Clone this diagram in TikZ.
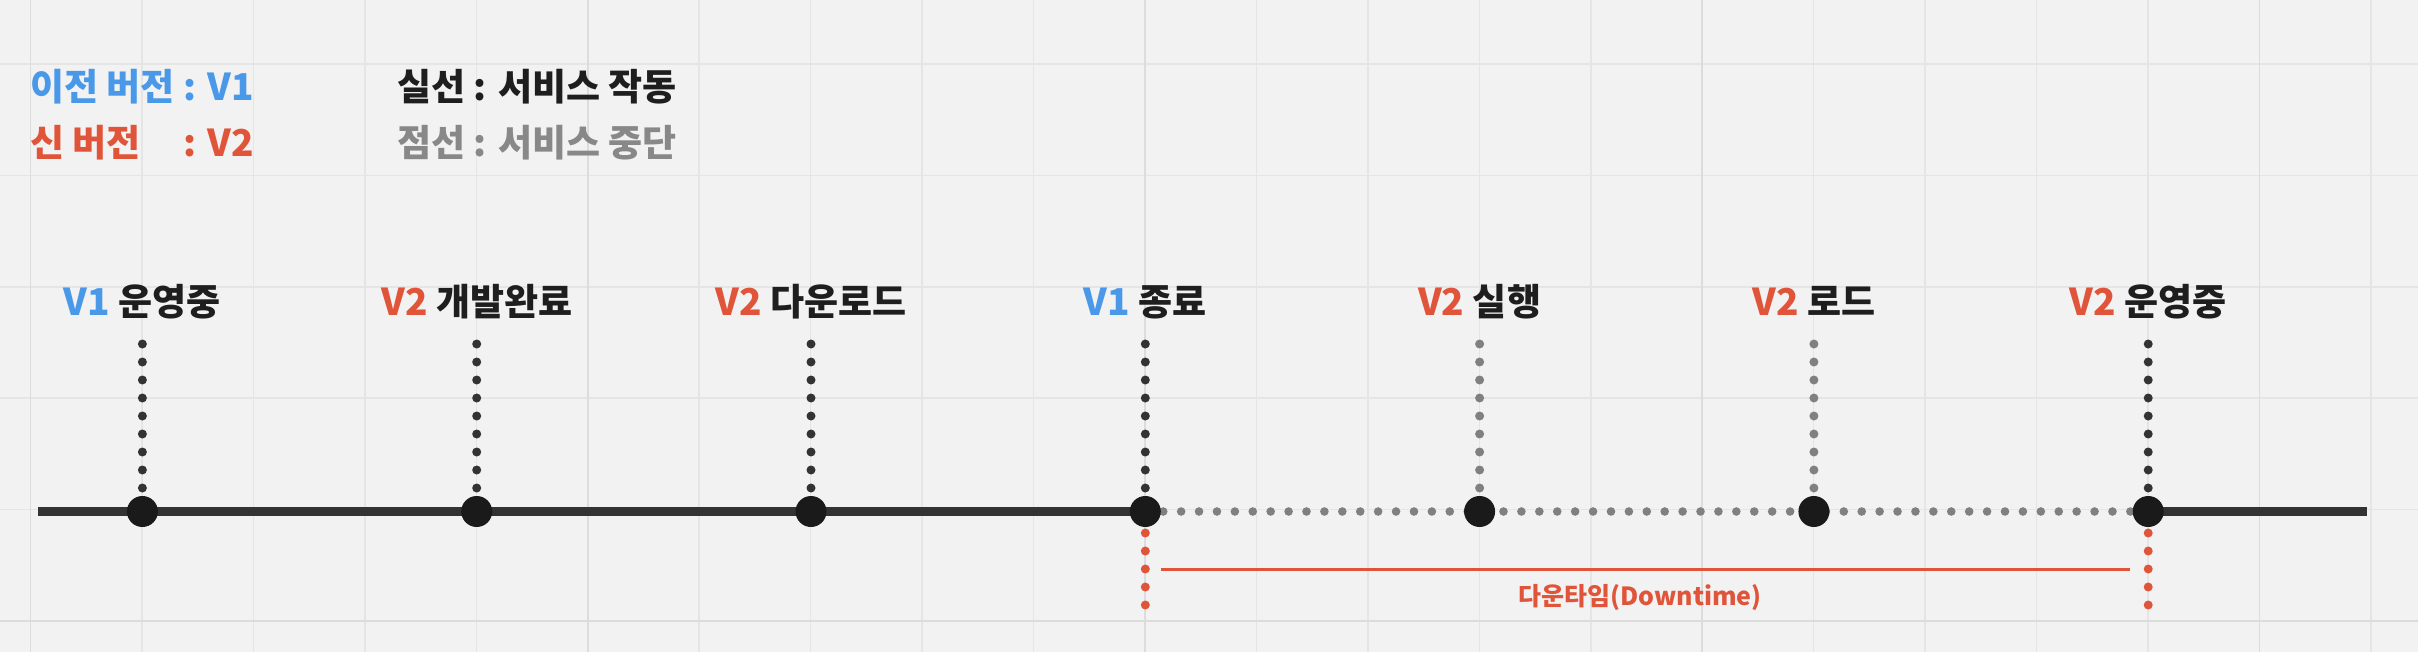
\documentclass[tikz,border=0pt]{standalone}
\usepackage{fontspec}
\setmainfont{Noto Sans CJK KR}
\definecolor{bgc}{HTML}{F2F2F2}
\definecolor{gridc}{HTML}{E5E5E5}
\definecolor{gridd}{HTML}{DCDCDC}
\definecolor{linec}{HTML}{333333}
\definecolor{dotc}{HTML}{1A1A1A}
\definecolor{grayc}{HTML}{808080}
\definecolor{txt}{HTML}{1E1E1E}
\definecolor{bluec}{HTML}{4A98E8}
\definecolor{redc}{HTML}{E0553A}
\definecolor{graytxt}{HTML}{888888}
\tikzset{
  gridln/.style={draw=gridc, line width=0.75pt},
  gridbold/.style={draw=gridd, line width=0.9pt},
  bigdot/.style={circle, fill=dotc, inner sep=0pt, minimum size=15.5pt},
  solidline/.style={draw=linec, line width=4.2pt},
  grayline/.style={draw=grayc, line width=4.3pt, line cap=round, dash pattern=on 0pt off 8.955pt},
  vdots/.style={line width=4.5pt, line cap=round, dash pattern=on 0pt off 9pt},
  lbl/.style={anchor=base, font=\bfseries\fontsize{18.5}{22}\selectfont, text=txt, inner sep=0pt},
  legend/.style={anchor=base west, font=\bfseries\fontsize{18.5}{22}\selectfont, inner sep=0pt},
}
\begin{document}
\begin{tikzpicture}[x=0.5pt, y=-0.5pt]
\fill[bgc] (0,0) rectangle (2418,652);
\useasboundingbox (0,0) rectangle (2418,652);
% grid
\foreach \k in {0,...,21} {
  \pgfmathsetmacro\gx{30.5+111.45*\k}
  \draw[gridln] (\gx,0) -- (\gx,652);
}
\foreach \k in {0,...,5} {
  \pgfmathsetmacro\gy{64+111.4*\k}
  \draw[gridln] (0,\gy) -- (2418,\gy);
}
\foreach \k in {0,5,10,15,20} {
  \pgfmathsetmacro\gx{30.5+111.45*\k}
  \draw[gridbold] (\gx,0) -- (\gx,652);
}
\draw[gridbold] (0,621) -- (2418,621);

% legend
\node[legend, text=bluec] (lg1) at (30,101) {이전 버전 : V1};
\node[legend, text=redc] (lg2) at (30,157) {\rlap{신 버전}\phantom{이전 버전 }: V2};
\node[legend, text=txt] (lg3) at (397,101) {실선 : 서비스 작동};
\node[legend, text=graytxt] (lg4) at (397,157) {점선 : 서비스 중단};

% timeline coordinates
\coordinate (start) at (38,511.5);
\coordinate (end) at (2367,511.5);
\coordinate (p1) at (142.4,511.5);
\coordinate (p2) at (476.7,511.5);
\coordinate (p3) at (811.0,511.5);
\coordinate (p4) at (1145.3,511.5);
\coordinate (p5) at (1479.6,511.5);
\coordinate (p6) at (1813.9,511.5);
\coordinate (p7) at (2148.2,511.5);

% vertical dotted stems
\foreach \i/\x/\c in {1/142.4/linec, 2/476.7/linec, 3/811.0/linec, 4/1145.3/linec, 5/1479.6/grayc, 6/1813.9/grayc, 7/2148.2/linec} {
  \coordinate (t\i) at (\x,344);
  \coordinate (b\i) at (\x,489);
  \draw[vdots, draw=\c] (t\i) -- (b\i);
}

% main line
\draw[solidline] (start) -- (p4);
\draw[grayline] (p4) -- (p7);
\draw[solidline] (p7) -- (end);

% red downtime markers
\coordinate (r1t) at (1145.3,533);
\coordinate (r1b) at (1145.3,606);
\coordinate (r2t) at (2148.2,533);
\coordinate (r2b) at (2148.2,606);
\draw[vdots, draw=redc] (r1t) -- (r1b);
\draw[vdots, draw=redc] (r2t) -- (r2b);
\coordinate (dl) at (1161,569.3);
\coordinate (dr) at (2130,569.3);
\draw[redc, line width=1.3pt] (dl) -- (dr);
\node[font=\bfseries\fontsize{12.5}{15}\selectfont, text=redc, inner sep=0pt] (dt) at (1640,597) {다운타임(Downtime)};

% big dots
\foreach \i in {1,...,7} {
  \node[bigdot] (d\i) at (p\i) {};
}

% labels
\node[lbl] (l1) at (142.4,315) {\textcolor{bluec}{V1} 운영중};
\node[lbl] (l2) at (476.7,315) {\textcolor{redc}{V2} 개발완료};
\node[lbl] (l3) at (811.0,315) {\textcolor{redc}{V2} 다운로드};
\node[lbl] (l4) at (1145.3,315) {\textcolor{bluec}{V1} 종료};
\node[lbl] (l5) at (1479.6,315) {\textcolor{redc}{V2} 실행};
\node[lbl] (l6) at (1813.9,315) {\textcolor{redc}{V2} 로드};
\node[lbl] (l7) at (2148.2,315) {\textcolor{redc}{V2} 운영중};
\end{tikzpicture}
\end{document}
